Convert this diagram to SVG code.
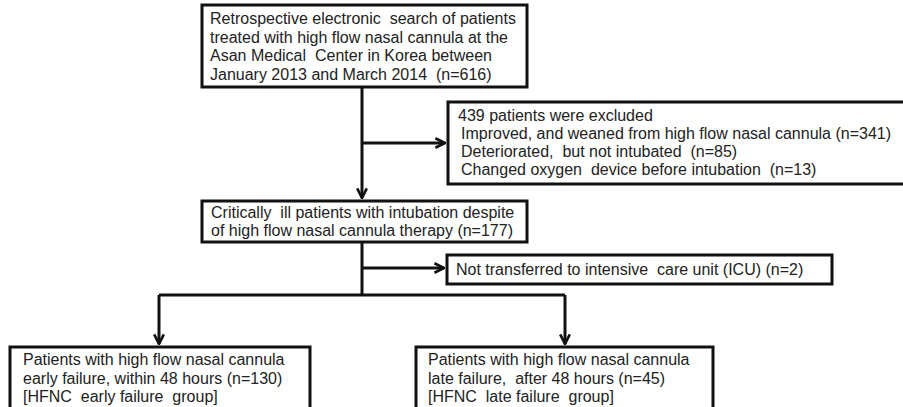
<svg xmlns="http://www.w3.org/2000/svg" width="903" height="407" viewBox="0 0 903 407">
<style>
.box{fill:#fff;stroke:#111;stroke-width:3}
.t{font-family:"Liberation Sans",Arial,sans-serif;font-size:16px;fill:#222;white-space:pre}
.c{stroke:#111;stroke-width:3;fill:none}
</style>
<defs>
<marker id="ah" viewBox="0 0 10 10" refX="9" refY="5" markerWidth="4" markerHeight="4" orient="auto" markerUnits="strokeWidth">
<path d="M1,1 L9,5 L1,9" fill="none" stroke="#111" stroke-width="2.2"/>
</marker>
</defs>
<rect width="903" height="407" fill="#fff"/>
<g id="n-search">
<rect class="box" x="202" y="5" width="325" height="82"/>
<text class="t" x="210" y="24" xml:space="preserve">Retrospective electronic  search of patients</text>
<text class="t" x="210" y="42.5" xml:space="preserve">treated with high flow nasal cannula at the</text>
<text class="t" x="210" y="61" xml:space="preserve">Asan Medical  Center in Korea between</text>
<text class="t" x="210" y="80" xml:space="preserve">January 2013 and March 2014  (n=616)</text>
</g>
<g id="n-excluded">
<rect class="box" x="448" y="102" width="470" height="82"/>
<text class="t" x="458" y="121" xml:space="preserve">439 patients were excluded</text>
<text class="t" x="461" y="139" xml:space="preserve">Improved, and weaned from high flow nasal cannula (n=341)</text>
<text class="t" x="461" y="157" xml:space="preserve">Deteriorated,  but not intubated  (n=85)</text>
<text class="t" x="461" y="175" xml:space="preserve">Changed oxygen  device before intubation  (n=13)</text>
</g>
<g id="n-intubated">
<rect class="box" x="202" y="201" width="325" height="41"/>
<text class="t" x="211" y="218" xml:space="preserve">Critically  ill patients with intubation despite</text>
<text class="t" x="211" y="236" xml:space="preserve">of high flow nasal cannula therapy (n=177)</text>
</g>
<g id="n-noticu">
<rect class="box" x="447" y="255" width="385" height="29"/>
<text class="t" x="456" y="275" xml:space="preserve">Not transferred to intensive  care unit (ICU) (n=2)</text>
</g>
<g id="n-early">
<rect class="box" x="10" y="347" width="300" height="80"/>
<text class="t" x="23" y="365" xml:space="preserve">Patients with high flow nasal cannula</text>
<text class="t" x="23" y="384" xml:space="preserve">early failure, within 48 hours (n=130)</text>
<text class="t" x="23" y="402" xml:space="preserve">[HFNC  early failure  group]</text>
</g>
<g id="n-late">
<rect class="box" x="416" y="347" width="297" height="80"/>
<text class="t" x="428" y="365" xml:space="preserve">Patients with high flow nasal cannula</text>
<text class="t" x="428" y="384" xml:space="preserve">late failure,  after 48 hours (n=45)</text>
<text class="t" x="428" y="402" xml:space="preserve">[HFNC  late failure  group]</text>
</g>
<g id="connectors">
<path class="c" d="M362,87 V198" marker-end="url(#ah)"/>
<path class="c" d="M362,143 H445" marker-end="url(#ah)"/>
<path class="c" d="M362,242 V295"/>
<path class="c" d="M362,268 H444" marker-end="url(#ah)"/>
<path class="c" d="M159,295 H565"/>
<path class="c" d="M159,295 V344" marker-end="url(#ah)"/>
<path class="c" d="M565,295 V344" marker-end="url(#ah)"/>
</g>
</svg>
